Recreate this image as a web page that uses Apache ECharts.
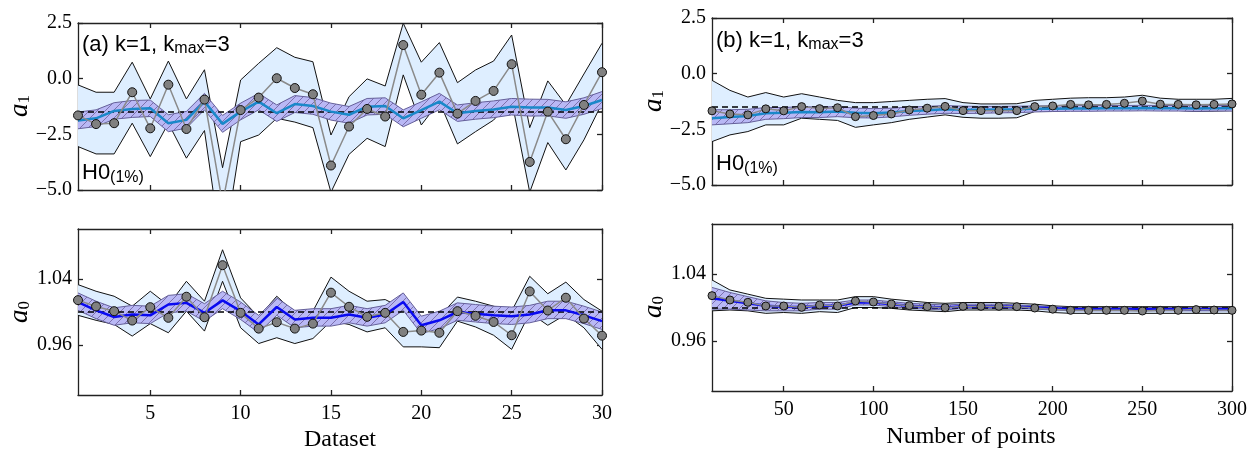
<!DOCTYPE html>
<html><head><meta charset="utf-8">
<script src="https://cdn.jsdelivr.net/npm/echarts@6/dist/echarts.min.js"></script>
<style>html,body{margin:0;padding:0;background:#fff}#c{width:1258px;height:452px}</style>
</head><body><div id="c"></div>
<script>
// ---------- data ----------
const datasets = [1,2,3,4,5,6,7,8,9,10,11,12,13,14,15,16,17,18,19,20,21,22,23,24,25,26,27,28,29,30];
const nPoints = [10,20,30,40,50,60,70,80,90,100,110,120,130,140,150,160,170,180,190,200,210,220,230,240,250,260,270,280,290,300];

const trueA1 = -1.5;
const trueA0 = 1.0;

// (a) a1 vs dataset
const dotsA1 = [-1.65,-2.04,-2.0,-0.61,-2.23,-0.27,-2.26,-0.94,-5.6,-1.41,-0.85,0.02,-0.42,-0.7,-3.9,-2.15,-1.36,-1.7,1.51,-0.72,0.27,-1.57,-1.0,-0.55,0.65,-3.74,-1.48,-2.72,-1.18,0.29];
const medA1 = [-1.88,-1.78,-1.45,-1.36,-1.33,-2.0,-1.85,-1.03,-2.03,-1.48,-1.03,-1.55,-1.14,-1.23,-1.48,-1.62,-1.26,-1.23,-1.78,-1.41,-1.03,-1.55,-1.45,-1.38,-1.26,-1.3,-1.3,-1.41,-1.23,-0.96];
const innerHiA1 = [-1.50,-1.40,-1.08,-0.98,-0.96,-1.62,-1.47,-0.66,-1.65,-1.10,-0.66,-1.18,-0.76,-0.85,-1.10,-1.25,-0.89,-0.86,-1.40,-1.04,-0.66,-1.18,-1.08,-1.00,-0.89,-0.92,-0.93,-1.04,-0.86,-0.58];
const innerLoA1 = [-2.25,-2.15,-1.82,-1.74,-1.70,-2.38,-2.22,-1.40,-2.41,-1.85,-1.40,-1.92,-1.52,-1.60,-1.86,-2.00,-1.63,-1.60,-2.16,-1.78,-1.40,-1.92,-1.82,-1.75,-1.63,-1.68,-1.67,-1.78,-1.60,-1.34];
const outerHiA1 = [-0.28,-0.61,-0.61,0.74,-0.91,0.79,-0.91,0.40,-4.0,-0.06,0.69,1.39,0.96,0.76,-2.53,-0.81,-0.01,-0.33,2.49,0.74,1.62,-0.18,0.39,0.79,1.96,-2.2,-0.1,-1.18,0.21,1.59];
const outerLoA1 = [-3.05,-3.38,-3.38,-2.0,-3.5,-2.0,-3.57,-2.33,-8.0,-2.83,-2.53,-1.78,-1.95,-2.2,-5.1,-3.4,-2.68,-3.05,0.17,-2.08,-1.03,-2.93,-2.38,-1.86,-0.96,-5.1,-2.87,-4.1,-2.75,-1.1];

// (a) a0 vs dataset
const dotsA0 = [1.0143,1.0067,1.001,0.9897,1.0058,0.993,1.0184,0.9937,1.0564,0.999,0.980,0.9877,0.980,0.986,1.0233,1.0063,0.9942,0.999,0.976,0.9776,0.975,1.001,0.9954,0.988,0.972,1.0248,1.0018,1.0172,0.9921,0.9715];
const medA0 = [1.012,1.002,0.994,0.997,0.996,1.009,1.011,0.999,1.014,1.001,0.985,1.006,0.991,0.993,0.993,0.997,0.993,0.997,1.012,0.984,0.990,1.000,0.998,0.996,0.995,0.997,1.002,1.002,0.996,0.989];
const innerHiA0 = [1.023,1.013,1.005,1.008,1.007,1.020,1.022,1.010,1.025,1.012,0.996,1.017,1.002,1.004,1.004,1.008,1.004,1.008,1.023,0.995,1.001,1.011,1.009,1.007,1.006,1.008,1.013,1.013,1.007,1.000];
const innerLoA0 = [1.002,0.992,0.984,0.987,0.986,0.999,1.001,0.989,1.004,0.991,0.975,0.996,0.981,0.983,0.983,0.987,0.983,0.987,1.002,0.974,0.980,0.990,0.988,0.986,0.985,0.987,0.992,0.992,0.986,0.979];
const outerHiA0 = [1.033,1.025,1.019,1.007,1.025,1.008,1.037,1.013,1.075,1.017,0.994,1.019,0.999,1.001,1.042,1.025,1.013,1.015,1.004,0.994,0.995,1.018,1.013,1.007,1.001,1.043,1.022,1.036,1.015,1.001];
const outerLoA0 = [0.996,0.990,0.985,0.971,0.986,0.975,1.001,0.977,1.037,0.981,0.962,0.969,0.962,0.968,0.989,0.985,0.976,0.981,0.958,0.958,0.957,0.989,0.982,0.972,0.955,0.999,0.984,0.997,0.981,0.955];

// (b) a1 vs number of points
const dotsB1 = [-1.67,-1.81,-1.85,-1.58,-1.67,-1.48,-1.57,-1.53,-1.93,-1.88,-1.81,-1.63,-1.55,-1.47,-1.66,-1.66,-1.66,-1.66,-1.48,-1.45,-1.38,-1.4,-1.38,-1.33,-1.23,-1.37,-1.38,-1.4,-1.38,-1.36];
const medB1 = [-2.0,-1.95,-1.9,-1.78,-1.76,-1.72,-1.73,-1.7,-1.76,-1.78,-1.74,-1.68,-1.64,-1.6,-1.62,-1.62,-1.61,-1.6,-1.58,-1.57,-1.56,-1.56,-1.55,-1.55,-1.54,-1.55,-1.55,-1.56,-1.55,-1.55];
const innerHiB1 = [-1.62,-1.62,-1.60,-1.52,-1.52,-1.48,-1.50,-1.48,-1.55,-1.57,-1.55,-1.50,-1.47,-1.43,-1.46,-1.47,-1.47,-1.46,-1.45,-1.44,-1.43,-1.43,-1.43,-1.43,-1.42,-1.43,-1.43,-1.44,-1.43,-1.43];
const innerLoB1 = [-2.30,-2.25,-2.20,-2.05,-2.02,-1.97,-1.97,-1.93,-1.98,-1.99,-1.94,-1.87,-1.82,-1.78,-1.79,-1.78,-1.76,-1.75,-1.72,-1.70,-1.69,-1.69,-1.68,-1.68,-1.67,-1.68,-1.68,-1.69,-1.68,-1.68];
const outerHiB1 = [-0.3,-0.75,-1.05,-0.85,-1.05,-0.9,-1.05,-1.2,-1.3,-1.3,-1.25,-1.2,-1.15,-1.12,-1.3,-1.36,-1.36,-1.35,-1.2,-1.15,-1.1,-1.08,-1.08,-1.05,-0.97,-1.1,-1.15,-1.15,-1.15,-1.11];
const outerLoB1 = [-3.05,-2.75,-2.6,-2.3,-2.3,-2.0,-2.05,-2.1,-2.41,-2.3,-2.2,-2.05,-1.95,-1.85,-1.96,-2.0,-2.0,-1.98,-1.7,-1.68,-1.66,-1.63,-1.63,-1.6,-1.55,-1.63,-1.65,-1.7,-1.68,-1.66];

// (b) a0 vs number of points
const dotsB0 = [1.0142,1.009,1.0062,1.0018,1.0018,1.0002,1.003,1.0018,1.0078,1.0066,1.0042,1.0022,1.001,0.9998,1.0014,1.0014,1.0014,1.001,0.9994,0.998,0.9966,0.9966,0.9966,0.9966,0.9958,0.9966,0.9966,0.9975,0.997,0.9966];
const medB0 = [1.011,1.008,1.005,1.002,1.001,1.0005,1.002,1.002,1.006,1.006,1.004,1.002,1.001,1.0,1.0015,1.0015,1.0015,1.001,1.0,0.999,0.998,0.998,0.998,0.998,0.998,0.998,0.998,0.998,0.998,0.998];
const innerHiB0 = [1.024,1.018,1.013,1.008,1.006,1.005,1.006,1.006,1.009,1.009,1.007,1.005,1.004,1.003,1.004,1.004,1.004,1.003,1.002,1.001,1.0,1.0,1.0,1.0,1.0,1.0,1.0,1.0,1.0,1.0];
const innerLoB0 = [0.998,0.998,0.997,0.996,0.996,0.996,0.998,0.998,1.003,1.003,1.001,0.999,0.998,0.997,0.999,0.999,0.999,0.999,0.998,0.997,0.996,0.996,0.996,0.996,0.996,0.996,0.996,0.996,0.996,0.996];
const outerHiB0 = [1.033,1.021,1.016,1.011,1.010,1.009,1.009,1.009,1.013,1.013,1.010,1.008,1.006,1.005,1.006,1.006,1.006,1.005,1.004,1.002,1.001,1.001,1.001,1.001,1.001,1.001,1.001,1.001,1.001,1.001];
const outerLoB0 = [0.996,0.997,0.996,0.993,0.994,0.993,0.995,0.994,1.000,1.000,0.999,0.997,0.996,0.995,0.997,0.997,0.997,0.997,0.996,0.994,0.993,0.993,0.993,0.993,0.993,0.993,0.993,0.993,0.993,0.993];

// tick labels
const xTicksA = [5,10,15,20,25,30];
const xTicksB = [50,100,150,200,250,300];
const yTicksA1 = [-5.0,-2.5,0.0,2.5];
const yTicksA0 = [0.96,1.04];

// ---------- styles ----------
const OUTER_FILL = '#deeeff';
const EDGE = '#111';
const INNER_EDGE = '#65609a';
const MED_TOP = '#1a88c9';
const MED_BOT = '#0a0af0';
const SERIF = '"Liberation Serif"';
const SANS = '"Liberation Sans"';

function hatchPattern() {
  const c = document.createElement('canvas');
  c.width = 8; c.height = 8;
  const g = c.getContext('2d');
  g.fillStyle = '#b9b8f5';
  g.fillRect(0, 0, 8, 8);
  g.strokeStyle = '#7c70ad';
  g.lineWidth = 1;
  g.beginPath();
  g.moveTo(0, 8); g.lineTo(8, 0);
  g.moveTo(-1, 1); g.lineTo(1, -1);
  g.moveTo(7, 9); g.lineTo(9, 7);
  g.stroke();
  return { image: c, repeat: 'repeat' };
}
const HATCH = hatchPattern();

const zip = (xs, ys) => xs.map((x, i) => [x, ys[i]]);

// filled band between two curves, drawn through the axes' coordinate system
function bandSeries(p, xs, lo, hi, fill, z) {
  return {
    type: 'custom', xAxisIndex: 2 * p, yAxisIndex: 2 * p, z, silent: true,
    data: xs.map((x, i) => [x, lo[i], hi[i]]),
    encode: { x: 0, y: [1, 2] },
    renderItem(params, api) {
      if (params.dataIndexInside !== 0) return null;
      const n = params.dataInsideLength;
      const top = [], bot = [];
      for (let i = 0; i < n; i++) {
        top.push(api.coord([api.value(0, i), api.value(2, i)]));
        bot.push(api.coord([api.value(0, i), api.value(1, i)]));
      }
      const cs = params.coordSys;
      return {
        type: 'group',
        clipPath: { type: 'rect', shape: { x: cs.x, y: cs.y, width: cs.width, height: cs.height } },
        children: [{ type: 'polygon', shape: { points: top.concat(bot.reverse()) }, style: { fill } }]
      };
    }
  };
}
function edgeSeries(p, xs, ys, color, z) {
  return { type: 'line', xAxisIndex: 2 * p, yAxisIndex: 2 * p, data: zip(xs, ys), symbol: 'none',
    lineStyle: { color, width: 1 }, z, silent: true };
}

function panelSeries(p, xs, d, truth, medColor, symSize) {
  const ax = { xAxisIndex: 2 * p, yAxisIndex: 2 * p };
  return [
    bandSeries(p, xs, d.outLo, d.outHi, OUTER_FILL, 1),
    edgeSeries(p, xs, d.outLo, EDGE, 2),
    edgeSeries(p, xs, d.outHi, EDGE, 2),
    bandSeries(p, xs, d.inLo, d.inHi, HATCH, 3),
    edgeSeries(p, xs, d.inLo, INNER_EDGE, 4),
    edgeSeries(p, xs, d.inHi, INNER_EDGE, 4),
    Object.assign({ type: 'line', data: zip(xs, d.med), symbol: 'none',
      lineStyle: { color: medColor, width: 2.5 }, z: 5, silent: true,
      markLine: { symbol: 'none', silent: true, label: { show: false }, animation: false,
        lineStyle: { color: '#000', type: [6, 4], width: 1.5 }, data: [{ yAxis: truth }] } }, ax),
    Object.assign({ type: 'line', data: zip(xs, d.dots), symbol: 'circle', symbolSize: symSize,
      itemStyle: { color: '#808080', borderColor: '#111', borderWidth: 1 },
      lineStyle: { color: '#8a8a8a', width: 1.5 }, z: 7, silent: true }, ax)
  ];
}

const grids = [
  { left: 78, top: 23, width: 524, height: 167 },
  { left: 78, top: 229, width: 524, height: 166 },
  { left: 712, top: 18, width: 520, height: 167 },
  { left: 712, top: 224, width: 520, height: 167 }
];

const lineS = { color: '#222', width: 1.3 };
function xAxes(p, min, max, ticks, showLabels) {
  const base = { type: 'value', gridIndex: p, min, max, splitLine: { show: false },
    axisLine: { show: true, onZero: false, lineStyle: lineS } };
  return [
    Object.assign({}, base, { position: 'bottom',
      axisTick: { show: true, inside: true, length: 5, customValues: ticks, lineStyle: lineS },
      axisLabel: { show: showLabels, customValues: ticks, fontFamily: 'Liberation Serif', fontSize: 20, color: '#000', margin: 9 } }),
    Object.assign({}, base, { position: 'top',
      axisTick: { show: true, inside: true, length: 5, customValues: ticks, lineStyle: lineS },
      axisLabel: { show: false } })
  ];
}
function yAxes(p, min, max, ticks, fmt) {
  const base = { type: 'value', gridIndex: p, min, max, splitLine: { show: false },
    axisLine: { show: true, onZero: false, lineStyle: lineS } };
  return [
    Object.assign({}, base, { position: 'left',
      axisTick: { show: true, inside: true, length: 5, customValues: ticks, lineStyle: lineS },
      axisLabel: { show: true, customValues: ticks, formatter: fmt, fontFamily: 'Liberation Serif', fontSize: 20, color: '#000', margin: 6 } }),
    Object.assign({}, base, { position: 'right',
      axisTick: { show: true, inside: true, length: 5, customValues: ticks, lineStyle: lineS },
      axisLabel: { show: false } })
  ];
}
const fmtA1 = v => (v < 0 ? '\u2212' : '') + Math.abs(v).toFixed(1);
const fmtA0 = v => v.toFixed(2);

const series = [].concat(
  panelSeries(0, datasets, { dots: dotsA1, med: medA1, inHi: innerHiA1, inLo: innerLoA1, outHi: outerHiA1, outLo: outerLoA1 }, trueA1, MED_TOP, 9),
  panelSeries(1, datasets, { dots: dotsA0, med: medA0, inHi: innerHiA0, inLo: innerLoA0, outHi: outerHiA0, outLo: outerLoA0 }, trueA0, MED_BOT, 9),
  panelSeries(2, nPoints, { dots: dotsB1, med: medB1, inHi: innerHiB1, inLo: innerLoB1, outHi: outerHiB1, outLo: outerLoB1 }, trueA1, MED_TOP, 8),
  panelSeries(3, nPoints, { dots: dotsB0, med: medB0, inHi: innerHiB0, inLo: innerLoB0, outHi: outerHiB0, outLo: outerLoB0 }, trueA0, MED_BOT, 8)
);

// ---------- text with subscripts (measured runs) ----------
const mctx = document.createElement('canvas').getContext('2d');
function run(x, y, parts, opts) {
  opts = opts || {};
  let cx = 0;
  const kids = parts.map(pt => {
    mctx.font = pt.font;
    const w = mctx.measureText(pt.t).width;
    const el = { type: 'text', x: cx, y: pt.dy || 0, silent: true,
      style: { text: pt.t, font: pt.font, fill: '#000', align: 'left', verticalAlign: 'middle' } };
    cx += w;
    return el;
  });
  if (opts.center) kids.forEach(k => { k.x -= cx / 2; });
  return { type: 'group', x, y, rotation: opts.rotation || 0, z: 100, silent: true, children: kids };
}
const F_MAIN = '22px ' + SANS;
const F_SUB = '16px ' + SANS;
const F_MATH = 'italic 27px ' + SERIF;
const F_MSUB = '17px ' + SERIF;
const kText = [{ t: ' k=1, k', font: F_MAIN }, { t: 'max', font: F_SUB, dy: 4 }, { t: '=3', font: F_MAIN }];
const h0Text = [{ t: 'H0', font: F_MAIN }, { t: '(1%)', font: F_SUB, dy: 5 }];

const graphic = [
  run(82, 45, [{ t: '(a)', font: F_MAIN }].concat(kText)),
  run(82, 173, h0Text),
  run(716, 41, [{ t: '(b)', font: F_MAIN }].concat(kText)),
  run(716, 164, h0Text),
  run(20, 106, [{ t: 'a', font: F_MATH }, { t: '1', font: F_MSUB, dy: 5 }], { center: true, rotation: Math.PI / 2 }),
  run(20, 312, [{ t: 'a', font: F_MATH }, { t: '0', font: F_MSUB, dy: 5 }], { center: true, rotation: Math.PI / 2 }),
  run(654, 101, [{ t: 'a', font: F_MATH }, { t: '1', font: F_MSUB, dy: 5 }], { center: true, rotation: Math.PI / 2 }),
  run(654, 307, [{ t: 'a', font: F_MATH }, { t: '0', font: F_MSUB, dy: 5 }], { center: true, rotation: Math.PI / 2 }),
  run(340, 440, [{ t: 'Dataset', font: '24px ' + SERIF }], { center: true }),
  run(971, 437, [{ t: 'Number of points', font: '24px ' + SERIF }], { center: true })
];

const chart = echarts.init(document.getElementById('c'), null, { renderer: 'canvas' });
chart.setOption({
  animation: false,
  backgroundColor: '#fff',
  grid: grids,
  xAxis: [].concat(xAxes(0, 1, 30, xTicksA, false), xAxes(1, 1, 30, xTicksA, true),
                   xAxes(2, 10, 300, xTicksB, false), xAxes(3, 10, 300, xTicksB, true)),
  yAxis: [].concat(yAxes(0, -5, 2.5, yTicksA1, fmtA1), yAxes(1, 0.9, 1.1, yTicksA0, fmtA0),
                   yAxes(2, -5, 2.5, yTicksA1, fmtA1), yAxes(3, 0.9, 1.1, yTicksA0, fmtA0)),
  series,
  graphic
});
</script>
</body></html>
